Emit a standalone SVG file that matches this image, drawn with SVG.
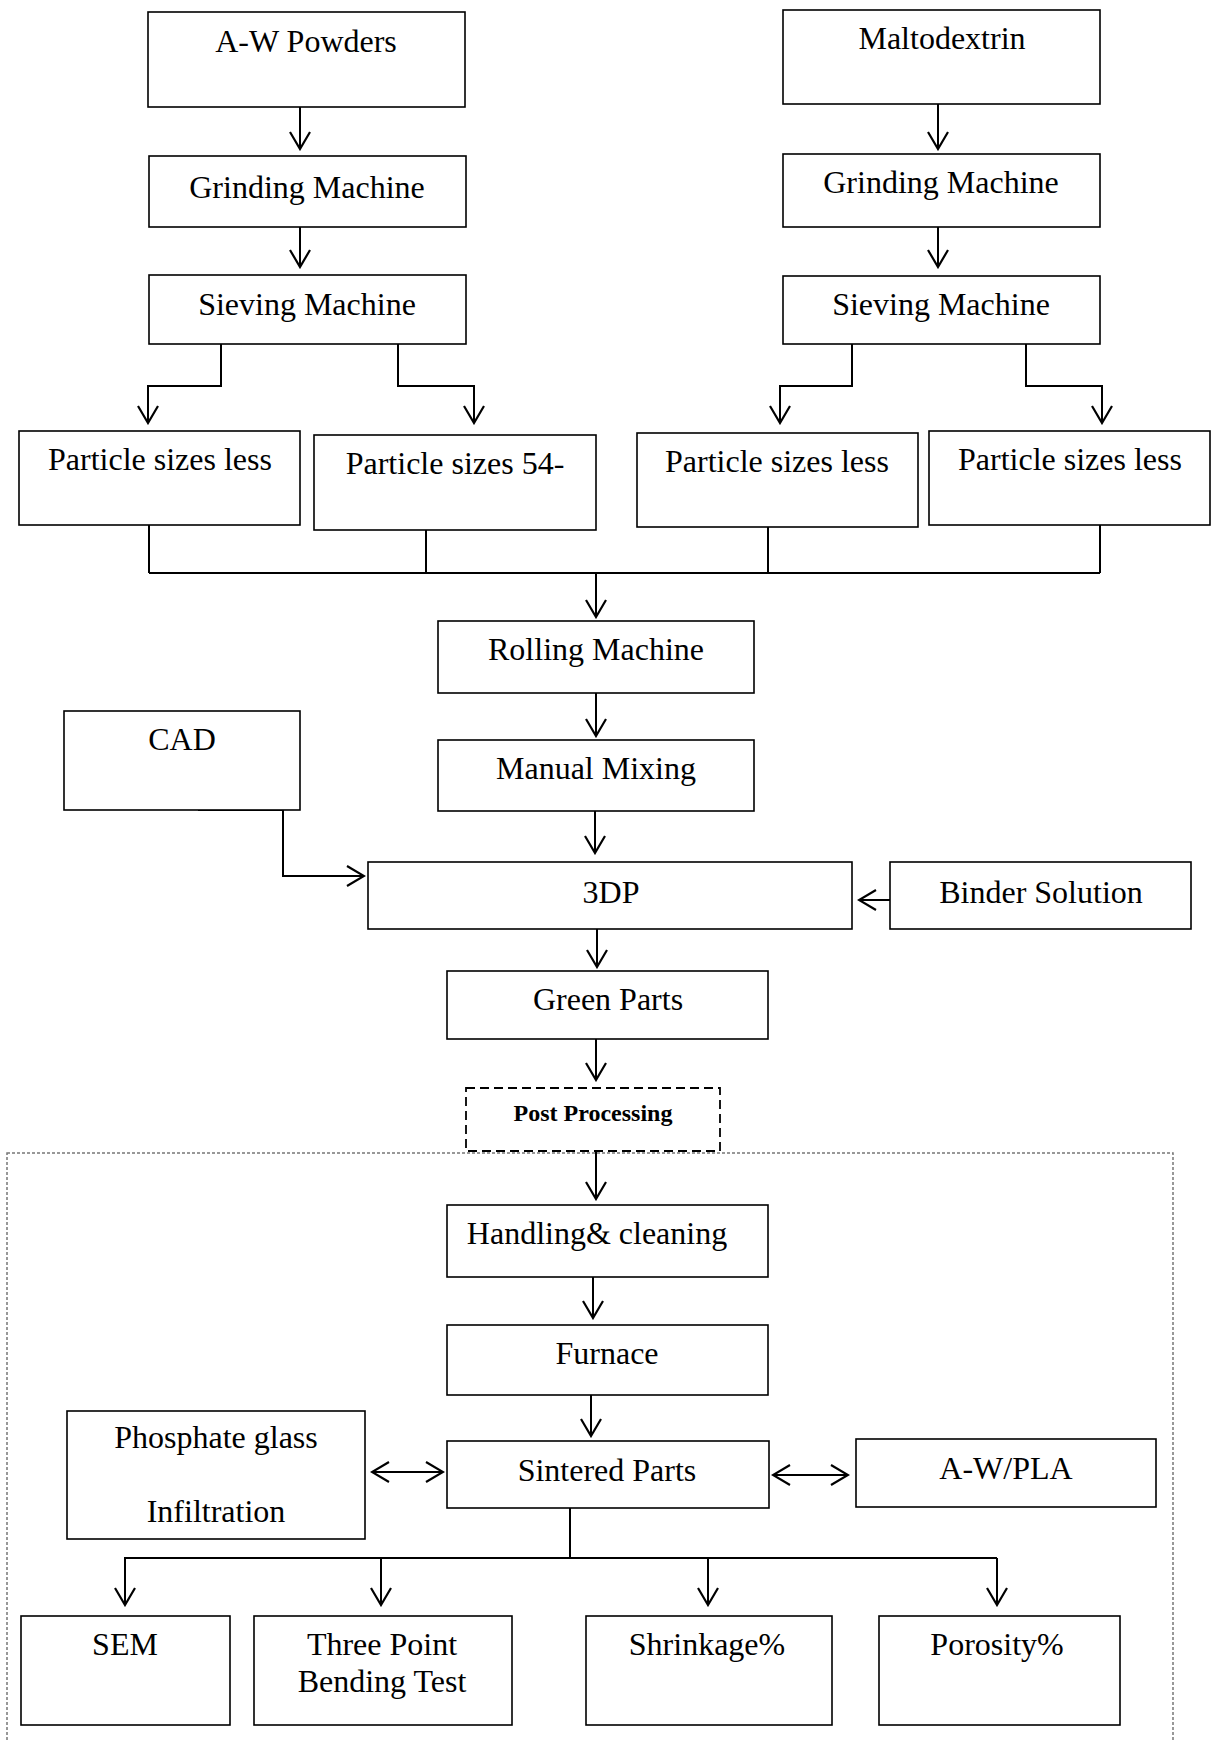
<svg xmlns="http://www.w3.org/2000/svg" width="1216" height="1740" viewBox="0 0 1216 1740">
<style>
.box{fill:#fff;stroke:#000;stroke-width:1.6}
.dash{fill:#fff;stroke:#000;stroke-width:1.8;stroke-dasharray:9,5}
.t{font-family:"Liberation Serif","Times New Roman",serif;font-size:32px;text-anchor:middle;fill:#000}
.b{font-weight:bold;font-size:24px}
.ln{stroke:#000;stroke-width:2;fill:none}
.ar{stroke:#000;stroke-width:2;fill:none;marker-end:url(#ah)}
.dar{stroke:#000;stroke-width:2;fill:none;marker-end:url(#ah);marker-start:url(#ah)}
</style>
<defs>
<marker id="ah" viewBox="0 0 20 22" refX="18" refY="11" markerWidth="20" markerHeight="22" markerUnits="userSpaceOnUse" orient="auto-start-reverse">
<path d="M1,1 L18,11 L1,21" fill="none" stroke="#000" stroke-width="2.2"/>
</marker>
</defs>
<rect x="7" y="1153" width="1166" height="600" fill="none" stroke="#777" stroke-width="1.5" stroke-dasharray="3,2"/>
<g id="connectors">
<path class="ar" d="M300,107 V149"/>
<path class="ar" d="M300,227 V267"/>
<path class="ar" d="M221,344 V386 H148 V423"/>
<path class="ar" d="M398,344 V386 H474 V423"/>
<path class="ar" d="M938,104 V149"/>
<path class="ar" d="M938,227 V267"/>
<path class="ar" d="M852,344 V386 H780 V423"/>
<path class="ar" d="M1026,344 V386 H1102 V423"/>
<path class="ln" d="M149,525 V573 M426,530 V573 M768,527 V573 M1100,525 V573 M149,573 H1100"/>
<path class="ar" d="M596,573 V617"/>
<path class="ar" d="M596,693 V736"/>
<path class="ar" d="M595,811 V853"/>
<path class="ar" d="M198,810 H283 V876 H364"/>
<path class="ar" d="M890,900 H859"/>
<path class="ar" d="M597,929 V967"/>
<path class="ar" d="M596,1039 V1080"/>
<path class="ar" d="M596,1151 V1199"/>
<path class="ar" d="M593,1277 V1318"/>
<path class="ar" d="M591,1395 V1436"/>
<path class="dar" d="M372,1472 H443"/>
<path class="dar" d="M773,1475 H848"/>
<path class="ln" d="M570,1508 V1558 M124,1558 H997"/>
<path class="ar" d="M125,1558 V1605"/>
<path class="ar" d="M381,1558 V1605"/>
<path class="ar" d="M708,1558 V1605"/>
<path class="ar" d="M997,1558 V1605"/>
</g>
<g id="n-aw-powders"><rect class="box" x="148" y="12" width="317" height="95"/><text class="t" x="306" y="52">A-W Powders</text></g>
<g id="n-grinding-left"><rect class="box" x="149" y="156" width="317" height="71"/><text class="t" x="307" y="198">Grinding Machine</text></g>
<g id="n-sieving-left"><rect class="box" x="149" y="275" width="317" height="69"/><text class="t" x="307" y="315">Sieving Machine</text></g>
<g id="n-particle-1"><rect class="box" x="19" y="431" width="281" height="94"/><text class="t" x="160" y="470">Particle sizes less</text></g>
<g id="n-particle-2"><rect class="box" x="314" y="435" width="282" height="95"/><text class="t" x="455" y="474">Particle sizes 54-</text></g>
<g id="n-maltodextrin"><rect class="box" x="783" y="10" width="317" height="94"/><text class="t" x="942" y="49">Maltodextrin</text></g>
<g id="n-grinding-right"><rect class="box" x="783" y="154" width="317" height="73"/><text class="t" x="941" y="193">Grinding Machine</text></g>
<g id="n-sieving-right"><rect class="box" x="783" y="276" width="317" height="68"/><text class="t" x="941" y="315">Sieving Machine</text></g>
<g id="n-particle-3"><rect class="box" x="637" y="433" width="281" height="94"/><text class="t" x="777" y="472">Particle sizes less</text></g>
<g id="n-particle-4"><rect class="box" x="929" y="431" width="281" height="94"/><text class="t" x="1070" y="470">Particle sizes less</text></g>
<g id="n-rolling"><rect class="box" x="438" y="621" width="316" height="72"/><text class="t" x="596" y="660">Rolling Machine</text></g>
<g id="n-manual"><rect class="box" x="438" y="740" width="316" height="71"/><text class="t" x="596" y="779">Manual Mixing</text></g>
<g id="n-cad"><rect class="box" x="64" y="711" width="236" height="99"/><text class="t" x="182" y="750">CAD</text></g>
<g id="n-3dp"><rect class="box" x="368" y="862" width="484" height="67"/><text class="t" x="611" y="903">3DP</text></g>
<g id="n-binder"><rect class="box" x="890" y="862" width="301" height="67"/><text class="t" x="1041" y="903">Binder Solution</text></g>
<g id="n-green"><rect class="box" x="447" y="971" width="321" height="68"/><text class="t" x="608" y="1010">Green Parts</text></g>
<g id="n-post"><rect class="dash" x="466" y="1088" width="254" height="63"/><text class="t b" x="593" y="1121">Post Processing</text></g>
<g id="n-handling"><rect class="box" x="447" y="1205" width="321" height="72"/><text class="t" x="597" y="1244">Handling&amp; cleaning</text></g>
<g id="n-furnace"><rect class="box" x="447" y="1325" width="321" height="70"/><text class="t" x="607" y="1364">Furnace</text></g>
<g id="n-sintered"><rect class="box" x="447" y="1441" width="322" height="67"/><text class="t" x="607" y="1481">Sintered Parts</text></g>
<g id="n-phosphate"><rect class="box" x="67" y="1411" width="298" height="128"/><text class="t" x="216" y="1448">Phosphate glass</text><text class="t" x="216" y="1522">Infiltration</text></g>
<g id="n-awpla"><rect class="box" x="856" y="1439" width="300" height="68"/><text class="t" x="1006" y="1479">A-W/PLA</text></g>
<g id="n-sem"><rect class="box" x="21" y="1616" width="209" height="109"/><text class="t" x="125" y="1655">SEM</text></g>
<g id="n-threepoint"><rect class="box" x="254" y="1616" width="258" height="109"/><text class="t" x="382" y="1655">Three Point</text><text class="t" x="382" y="1692">Bending Test</text></g>
<g id="n-shrinkage"><rect class="box" x="586" y="1616" width="246" height="109"/><text class="t" x="707" y="1655">Shrinkage%</text></g>
<g id="n-porosity"><rect class="box" x="879" y="1616" width="241" height="109"/><text class="t" x="997" y="1655">Porosity%</text></g>
</svg>
